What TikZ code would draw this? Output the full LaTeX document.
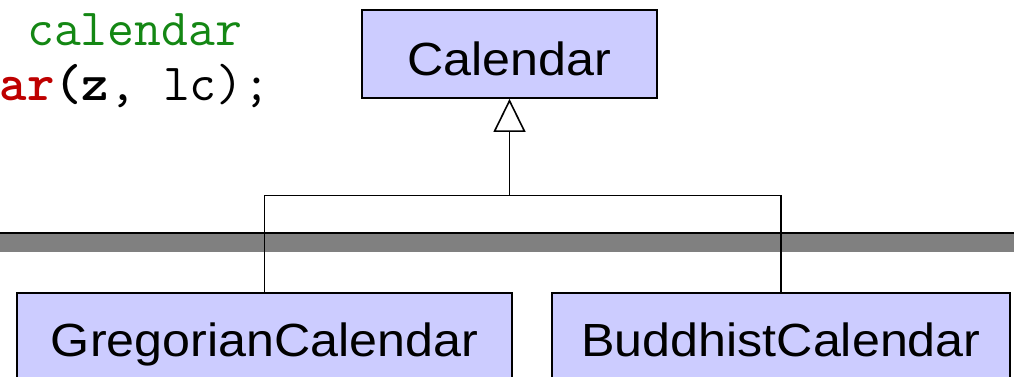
\documentclass[tikz,border=0pt]{standalone}
\usepackage{fontspec}
\setmainfont{Liberation Sans}
\newfontfamily\classfont[FakeStretch=1.08]{Liberation Sans}
\usetikzlibrary{arrows.meta}
\definecolor{classfill}{HTML}{CCCCFF}
\definecolor{bandgray}{HTML}{808080}
\definecolor{codegreen}{RGB}{20,135,20}
\definecolor{codered}{RGB}{190,0,0}
\tikzset{
  classbox/.style={draw=black, line width=1.8pt, fill=classfill, inner sep=0pt,
    font=\classfont\fontsize{46.5}{50}\selectfont, text height=42pt, text depth=0pt,
    minimum height=88pt},
  subbox/.style={classbox, text height=38pt},
  codeline/.style={anchor=base west, inner sep=0pt,
    font=\ttfamily\fontsize{52.2}{56}\selectfont},
  conn/.style={draw=black, line width=1.8pt},
  inherits/.style={conn, -{Triangle[open, length=33pt, width=32pt, line width=1.6pt]}}
}
\begin{document}
\begin{tikzpicture}[x=1pt, y=-1pt]
\useasboundingbox (0,0) rectangle (1014,376);
\clip (0,0) rectangle (1014,376);

% separator band across the page
\fill[bandgray] (0,233) rectangle (1014,252);
\draw[line width=2pt] (0,233) -- (1014,233);

% code fragment, top left
\node[codeline, text=codegreen] (comment) at (27,45) {calendar};
\node[codeline] (call) at (-0.5,100)
  {\textcolor{codered}{\bfseries ar}{\bfseries (z}, lc);};

% class boxes
\node[classbox, minimum width=295pt] (cal) at (509.5,54) {Calendar};
\node[subbox, minimum width=495pt] (greg) at (264.5,337) {GregorianCalendar};
\node[subbox, minimum width=458pt] (budd) at (781,337) {BuddhistCalendar};

% generalisation connectors
\coordinate (split) at (509.5,195.5);
\draw[inherits] (split) -- (cal.south);
\draw[conn] (greg.north) |- (split) -| (budd.north);
\end{tikzpicture}
\end{document}
